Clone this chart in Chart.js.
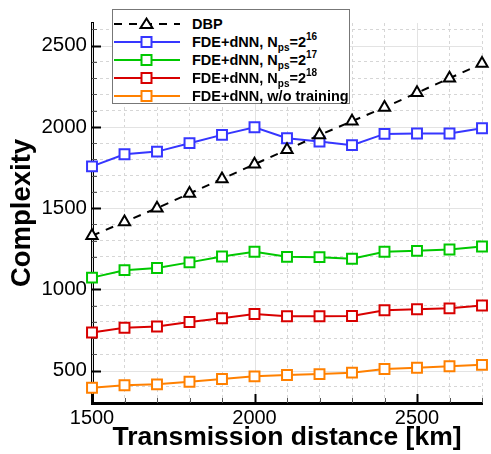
<!DOCTYPE html>
<html>
<head>
<meta charset="utf-8">
<script src="https://cdn.jsdelivr.net/npm/chart.js@4/dist/chart.umd.min.js"></script>
<style>
body { margin: 0; background: #fff; }
#wrap { position: relative; width: 491px; height: 454px; }
#legend {
  position: absolute; left: 112px; top: 9px; width: 238px; height: 95px;
  box-sizing: border-box; background: #fff; border: 1px solid #777;
  font: bold 14.5px "Liberation Sans", Arial, sans-serif; color: #000;
}
.row { position: absolute; left: 0; height: 18px; display: flex; align-items: center; white-space: nowrap; }
.row svg { display: block; margin-right: 12px; }
.row sub, .row sup { font-size: 10px; line-height: 0; }
.row sub { vertical-align: -4px; }
.row sup { vertical-align: 7px; }
</style>
</head>
<body>
<div id="wrap">
  <canvas id="myChart" width="491" height="454"></canvas>
  <div id="legend"></div>
</div>
<script>
// transmission distance [km]
var distances = [1500, 1600, 1700, 1800, 1900, 2000, 2100, 2200, 2300, 2400, 2500, 2600, 2700];

// complexity values
var dbp      = [1330, 1415, 1500, 1590, 1680, 1770, 1860, 1950, 2035, 2120, 2210, 2300, 2390];
var nps16    = [1757, 1832, 1848, 1900, 1951, 1998, 1930, 1910, 1888, 1957, 1960, 1960, 1992];
var nps17    = [1072, 1118, 1131, 1166, 1202, 1231, 1200, 1198, 1188, 1231, 1237, 1245, 1264];
var nps18    = [734, 763, 771, 799, 822, 848, 834, 834, 836, 871, 877, 883, 900];
var noTrain  = [394, 409, 415, 431, 448, 464, 472, 478, 487, 509, 517, 526, 535];

var xTickLabels = [1500, 2000, 2500];
var yTickLabels = [500, 1000, 1500, 2000, 2500];

var legendLabels = [
  'DBP',
  'FDE+dNN, N<sub>ps</sub>=2<sup>16</sup>',
  'FDE+dNN, N<sub>ps</sub>=2<sup>17</sup>',
  'FDE+dNN, N<sub>ps</sub>=2<sup>18</sup>',
  'FDE+dNN, w/o training'
];

function pts(arr) {
  return arr.map(function (v, i) { return { x: distances[i], y: v }; });
}

function series(label, arr, color, style) {
  return {
    label: label,
    data: pts(arr),
    borderColor: color,
    backgroundColor: '#fff',
    borderWidth: 2,
    pointStyle: style || 'rect',
    pointRadius: style === 'triangle' ? 6.5 : 7,
    pointBorderWidth: 2,
    pointBackgroundColor: '#fff',
    pointBorderColor: color,
    tension: 0,
    clip: false
  };
}

var dsets = [
  series('DBP', dbp, '#000', 'triangle'),
  series('FDE+dNN, Nps=2^16', nps16, '#3636ff'),
  series('FDE+dNN, Nps=2^17', nps17, '#00c800'),
  series('FDE+dNN, Nps=2^18', nps18, '#d80000'),
  series('FDE+dNN, w/o training', noTrain, '#ff8000')
];
dsets[0].borderDash = [8, 7];

function range(a, b, s) {
  var out = [];
  for (var v = a; v <= b; v += s) out.push({ value: v });
  return out;
}

// solid major grid lines + inward tick marks
var axisDecor = {
  id: 'axisDecor',
  beforeDatasetsDraw: function (chart) {
    var ctx = chart.ctx, a = chart.chartArea;
    var xs = chart.scales.x, ys = chart.scales.y;
    ctx.save();
    ctx.strokeStyle = '#e3e3e3';
    ctx.lineWidth = 1;
    yTickLabels.forEach(function (v) {
      var p = Math.round(ys.getPixelForValue(v)) + 0.5;
      ctx.beginPath(); ctx.moveTo(a.left, p); ctx.lineTo(a.right, p); ctx.stroke();
    });
    xTickLabels.forEach(function (v) {
      var p = Math.round(xs.getPixelForValue(v)) + 0.5;
      ctx.beginPath(); ctx.moveTo(p, a.top); ctx.lineTo(p, a.bottom); ctx.stroke();
    });
    ys.ticks.forEach(function (t) {
      var major = yTickLabels.indexOf(t.value) >= 0;
      var p = Math.round(ys.getPixelForValue(t.value)) + 0.5;
      ctx.strokeStyle = major ? '#000' : '#555';
      ctx.lineWidth = major ? 2 : 1;
      ctx.beginPath(); ctx.moveTo(a.left, p); ctx.lineTo(a.left + (major ? 9 : 5), p); ctx.stroke();
    });
    xs.ticks.forEach(function (t) {
      var major = xTickLabels.indexOf(t.value) >= 0;
      var p = Math.round(xs.getPixelForValue(t.value)) + 0.5;
      ctx.strokeStyle = major ? '#000' : '#555';
      ctx.lineWidth = major ? 2 : 1;
      ctx.beginPath(); ctx.moveTo(p, a.bottom); ctx.lineTo(p, a.bottom - (major ? 9 : 5)); ctx.stroke();
    });
    ctx.restore();
  }
};

var font = '"Liberation Sans", Arial, sans-serif';

var ctx = document.getElementById('myChart').getContext('2d');
var myChart = new Chart(ctx, {
  type: 'line',
  data: { datasets: dsets },
  options: {
    responsive: false,
    animation: false,
    devicePixelRatio: 1,
    layout: { padding: { left: 0, top: 23, right: 4, bottom: 0 } },
    plugins: { legend: { display: false }, tooltip: { enabled: false } },
    scales: {
      x: {
        type: 'linear',
        min: 1500,
        max: 2700,
        afterBuildTicks: function (s) { s.ticks = range(1500, 2700, 100); },
        afterFit: function (s) { s.height = 51; },
        ticks: {
          autoSkip: false, maxRotation: 0, padding: 3,
          color: '#000', font: { family: font, size: 20 },
          callback: function (v) { return xTickLabels.indexOf(v) >= 0 ? String(v) : ''; }
        },
        grid: {
          drawTicks: false,
          color: function (c) { return c.tick && xTickLabels.indexOf(c.tick.value) < 0 ? '#d6d6d6' : 'rgba(0,0,0,0)'; }
        },
        border: { color: '#000', width: 3, dash: [3, 3] },
        title: {
          display: true, text: 'Transmission distance [km]', color: '#000',
          font: { family: font, size: 26.5, weight: 'bold' },
          padding: { top: 0, bottom: 0 }
        }
      },
      y: {
        min: 300,
        max: 2640,
        afterBuildTicks: function (s) { s.ticks = range(400, 2600, 100); },
        afterFit: function (s) { s.width = 92; },
        ticks: {
          autoSkip: false, padding: 5,
          color: '#000', font: { family: font, size: 20.5 },
          callback: function (v) { return yTickLabels.indexOf(v) >= 0 ? String(v) : ''; }
        },
        grid: {
          drawTicks: false,
          color: function (c) { return c.tick && yTickLabels.indexOf(c.tick.value) < 0 ? '#d6d6d6' : 'rgba(0,0,0,0)'; }
        },
        border: { color: '#000', width: 3, dash: [3, 3] },
        title: {
          display: true, text: 'Complexity', color: '#000',
          font: { family: font, size: 27.5, weight: 'bold' },
          padding: { top: 6, bottom: 0 }
        }
      }
    }
  },
  plugins: [axisDecor]
});

// legend with sub/superscripts, built as html
var legend = document.getElementById('legend');
dsets.forEach(function (d, i) {
  var row = document.createElement('div');
  row.className = 'row';
  row.style.top = (5 + 18 * i) + 'px';
  var c = d.borderColor;
  var mark = d.pointStyle === 'triangle'
    ? '<polygon points="33.5,3.5 39.5,13 27.5,13" fill="#fff" stroke="' + c + '" stroke-width="2"/>'
    : '<rect x="28.5" y="4" width="10" height="10" fill="#fff" stroke="' + c + '" stroke-width="2"/>';
  var dash = d.borderDash ? ' stroke-dasharray="8 7"' : '';
  row.innerHTML = '<svg width="67" height="18"><line x1="1" y1="9" x2="67" y2="9" stroke="' + c +
    '" stroke-width="2"' + dash + '/>' + mark + '</svg><span>' + legendLabels[i] + '</span>';
  legend.appendChild(row);
});
</script>
</body>
</html>
